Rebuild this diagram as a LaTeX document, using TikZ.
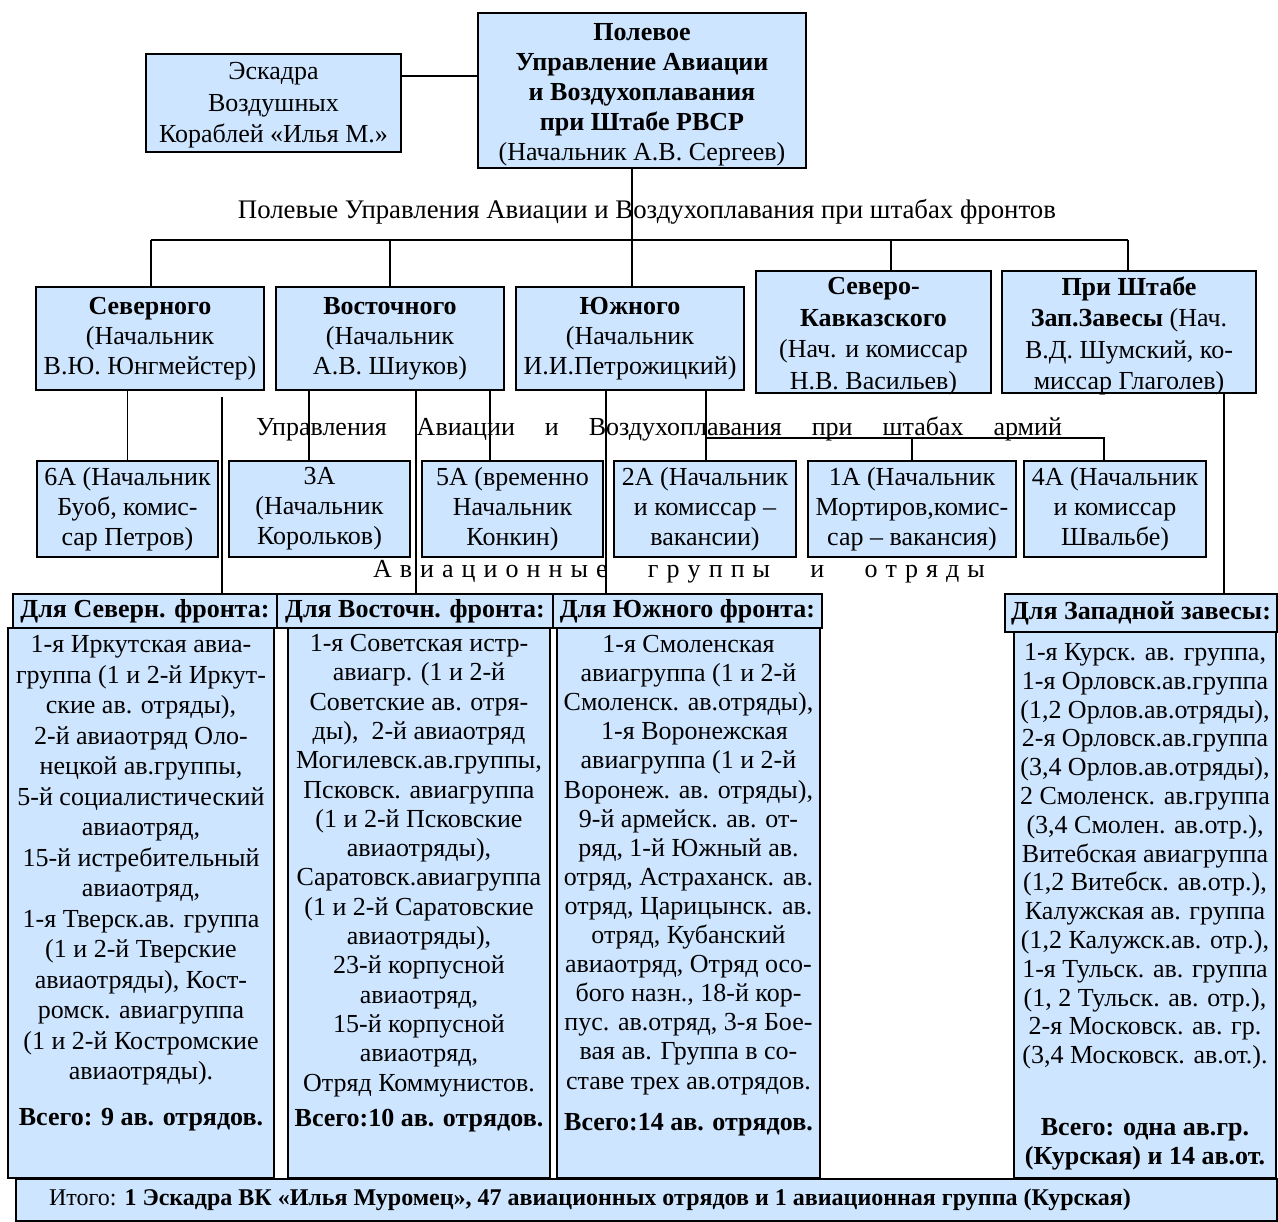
\documentclass[tikz,border=0pt]{standalone}
\usepackage{fontspec}
\setmainfont{Liberation Serif}
\definecolor{boxblue}{RGB}{206,229,255}
\newcommand\lsp{\hskip 0pt plus 1fil\relax}
\newcommand\wsp{\hskip 0pt plus 5fil\relax}
\newcommand\toppad[1]{\rule{0pt}{#1}}
\begin{document}
\begin{tikzpicture}[x=1pt,y=-1pt,
  txt/.style={font=\fontsize{26}{30}\selectfont},
  box/.style={draw=black,line width=1.7pt,fill=boxblue,inner sep=0pt,align=center,txt},
  corners/.style n args={4}{minimum width={(#3-#1)*1pt},minimum height={(#4-#2)*1pt},
    at={({(#1+#3)/2},{(#2+#4)/2})}},
  ln/.style={line width=1.6pt},
  lbl/.style={inner sep=0pt,txt},
  inside/.style={inner sep=0pt,align=center,font=\fontsize{26}{31.5}\selectfont},
  body/.style={inner sep=0pt,align=center,anchor=north}]

\useasboundingbox (0,0) rectangle (1278,1222);

% ---------- headquarters and the squadron ----------
\node[box,corners={478}{13}{806}{168}] (top)
  {\toppad{26pt}\textbf{Полевое}\\\textbf{Управление Авиации}\\\textbf{и Воздухоплавания}\\\textbf{при Штабе РВСР}\\(Начальник А.В. Сергеев)};
\node[box,corners={146}{54}{401}{152},font=\fontsize{26}{31.5}\selectfont] (esk)
  {\toppad{22pt}Эскадра\\Воздушных\\Кораблей «Илья М.»};

\node[lbl,font=\fontsize{26.8}{30}\selectfont] (lfront) at (647,212)
  {Полевые Управления Авиации и Воздухоплавания при штабах фронтов};

% ---------- front administrations ----------
\node[box,corners={36}{287}{264}{390}] (sev)
  {\textbf{Северного}\\(Начальник\\В.Ю. Юнгмейстер)};
\node[box,corners={276}{287}{504}{390}] (vost)
  {\textbf{Восточного}\\(Начальник\\А.В. Шиуков)};
\node[box,corners={516}{287}{744}{390}] (yuz)
  {\textbf{Южного}\\(Начальник\\И.И.Петрожицкий)};
\node[box,corners={756}{271}{991}{393}] (kav) {};
\node[inside] (tkav) at ([yshift=-4pt]kav.center)
  {\textbf{Северо-}\\\textbf{Кавказского}\\(Нач. и комиссар\\Н.В. Васильев)};
\node[box,corners={1002}{271}{1256}{393}] (zsh) {};
\node[inside] (tzsh) at ([yshift=-4pt]zsh.center)
  {\textbf{При Штабе}\\\textbf{Зап.Завесы} (Нач.\\В.Д. Шумский, ко-\\миссар Глаголев)};

\node[lbl] (larmy) at (659,429)
  {\hbox to 806pt{Управления\hfill Авиации\hfill и\hfill Воздухоплавания\hfill при\hfill штабах\hfill армий}};

% ---------- army administrations ----------
\node[box,corners={37}{461}{218}{557}] (a6) {6А (Начальник\\Буоб, комис-\\сар Петров)};
\node[box,corners={229}{461}{410}{557}] (a3) {3А\\(Начальник\\Корольков)};
\node[box,corners={422}{461}{603}{557}] (a5) {5А (временно\\Начальник\\Конкин)};
\node[box,corners={614}{461}{796}{557}] (a2) {2А (Начальник\\и комиссар –\\вакансии)};
\node[box,corners={808}{461}{1016}{557}] (a1) {1А (Начальник\\Мортиров,комис-\\сар – вакансия)};
\node[box,corners={1024}{461}{1206}{557}] (a4) {4А (Начальник\\и комиссар\\Швальбе)};

\node[lbl] (lgroups) at (679,572)
  {\hbox to 612pt{А\lsp в\lsp и\lsp а\lsp ц\lsp и\lsp о\lsp н\lsp н\lsp ы\lsp е\wsp
   г\lsp р\lsp у\lsp п\lsp п\lsp ы\wsp и\wsp о\lsp т\lsp р\lsp я\lsp д\lsp ы}};

% ---------- connector lines ----------
\coordinate (eskc) at (401,76);
\coordinate (busL) at (151,240);
\coordinate (busR) at (1128,240);
\coordinate (dk)   at (891,240);
\coordinate (s2)   at (222,397);
\coordinate (x309) at (309,0);
\coordinate (x416) at (416,0);
\coordinate (x490) at (490,0);
\coordinate (x606) at (606,0);
\coordinate (x632) at (632,0);
\coordinate (x1224) at (1224,0);
\coordinate (ab1)  at (706,438);
\coordinate (ab2)  at (1104,438);

\begin{scope}[ln]
\draw (eskc) -- (top.west |- eskc);
\draw (top.south -| x632) -- (yuz.north -| x632);
\draw (busL) -- (busR);
\draw (busL) -- (sev.north -| busL);
\draw (vost.north |- busL) -- (vost.north);
\draw (dk) -- (kav.north -| dk);
\draw (busR) -- (zsh.north -| busR);
\draw (sev.south -| a6.north) -- (a6.north);
\draw (vost.south -| x309) -- (a3.north -| x309);
\draw (vost.south -| x490) -- (a5.north -| x490);
\draw (yuz.south -| ab1) -- (a2.north -| ab1);
\draw (ab1) -- (ab2) -- (a4.north -| ab2);
\draw (a1.north |- ab1) -- (a1.north);
\end{scope}

% ---------- air groups and detachments ----------
\node[box,corners={8}{628}{274}{1178}] (bsev) {};
\node[box,corners={288}{628}{550}{1178}] (bvost) {};
\node[box,corners={557}{628}{820}{1178}] (byuz) {};
\node[box,corners={1014}{632}{1276}{1178}] (bzap) {};

\node[box,corners={13}{594}{277}{628}] (hsev) {\textbf{Для Северн. фронта:}};
\node[box,corners={277}{594}{553}{628}] (hvost) {\textbf{Для Восточн. фронта:}};
\node[box,corners={553}{594}{822}{628}] (hyuz) {\textbf{Для Южного фронта:}};
\node[box,corners={1005}{594}{1277}{632}] (hzap) {\textbf{Для Западной завесы:}};

\begin{scope}[ln]
\draw (s2) -- (hsev.north -| s2);
\draw (vost.south -| x416) -- (hvost.north -| x416);
\draw (yuz.south -| x606) -- (hyuz.north -| x606);
\draw (zsh.south -| x1224) -- (hzap.north -| x1224);
\end{scope}

\node[body,font=\fontsize{26}{30.5}\selectfont] (tsev) at ([yshift=-8pt]bsev.north)
  {1-я Иркутская авиа-\\группа (1 и 2-й Иркут-\\ские ав. отряды),\\2-й авиаотряд Оло-\\нецкой ав.группы,\\5-й социалистический\\авиаотряд,\\15-й истребительный\\авиаотряд,\\1-я Тверск.ав. группа\\(1 и 2-й Тверские\\авиаотряды), Кост-\\ромск. авиагруппа\\(1 и 2-й Костромские\\авиаотряды).\\[15pt]\textbf{Всего: 9 ав. отрядов.}};

\node[body,font=\fontsize{26}{29.3}\selectfont] (tvost) at ([yshift=-7pt]bvost.north)
  {1-я Советская истр-\\авиагр. (1 и 2-й\\Советские ав. отря-\\ды),~~2-й авиаотряд\\Могилевск.ав.группы,\\Псковск. авиагруппа\\(1 и 2-й Псковские\\авиаотряды),\\Саратовск.авиагруппа\\(1 и 2-й Саратовские\\авиаотряды),\\23-й корпусной\\авиаотряд,\\15-й корпусной\\авиаотряд,\\Отряд Коммунистов.\\[6pt]\textbf{Всего:10 ав. отрядов.}};

\node[body,font=\fontsize{26}{29.1}\selectfont] (tyuz) at ([yshift=-8pt]byuz.north)
  {1-я Смоленская\\авиагруппа (1 и 2-й\\Смоленск. ав.отряды),\\\hspace*{12pt}1-я Воронежская\\авиагруппа (1 и 2-й\\Воронеж. ав. отряды),\\9-й армейск. ав. от-\\ряд, 1-й Южный ав.\\отряд, Астраханск. ав.\\отряд, Царицынск. ав.\\отряд, Кубанский\\авиаотряд, Отряд осо-\\бого назн., 18-й кор-\\пус. ав.отряд, 3-я Бое-\\вая ав. Группа в со-\\ставе трех ав.отрядов.\\[12pt]\textbf{Всего:14 ав. отрядов.}};

\node[body,font=\fontsize{26}{28.8}\selectfont] (tzap) at ([yshift=-12pt]bzap.north)
  {1-я Курск. ав. группа,\\1-я Орловск.ав.группа\\(1,2 Орлов.ав.отряды),\\2-я Орловск.ав.группа\\(3,4 Орлов.ав.отряды),\\2 Смоленск. ав.группа\\(3,4 Смолен. ав.отр.),\\Витебская авиагруппа\\(1,2 Витебск. ав.отр.),\\Калужская ав. группа\\(1,2 Калужск.ав. отр.),\\1-я Тульск. ав. группа\\(1, 2 Тульск. ав. отр.),\\2-я Московск. ав. гр.\\(3,4 Московск. ав.от.).\\[43pt]\textbf{Всего: одна ав.гр.}\\\textbf{(Курская) и 14 ав.от.}};

% ---------- total ----------
\node[box,corners={16}{1179}{1277}{1221}] (total) {};
\node[lbl,font=\fontsize{24}{28}\selectfont] (ttotal) at (590,1200)
  {Итого: \textbf{1 Эскадра ВК «Илья Муромец», 47 авиационных отрядов и 1 авиационная группа (Курская)}};
\end{tikzpicture}
\end{document}
